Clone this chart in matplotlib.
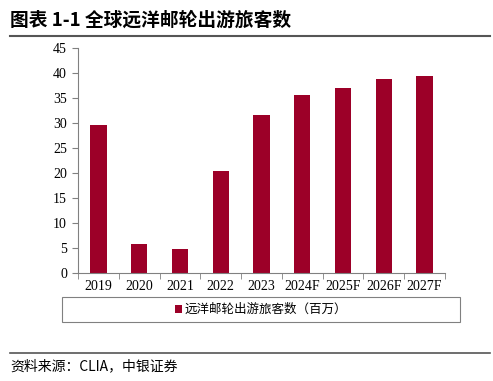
import matplotlib.pyplot as plt
from matplotlib.patches import Rectangle
from matplotlib.lines import Line2D

plt.rcParams['font.family'] = ['Liberation Serif', 'Noto Sans CJK SC']

years = ["2019", "2020", "2021", "2022", "2023", "2024F", "2025F", "2026F", "2027F"]
passengers = [29.7, 5.8, 4.8, 20.4, 31.7, 35.7, 37.1, 38.9, 39.4]

bar_color = "#9C0028"
W, H = 493, 381

fig = plt.figure(figsize=(W / 100, H / 100), dpi=100)
ax = fig.add_axes([78 / W, 1 - 273 / H, (445 - 78) / W, (273 - 48) / H])

x = list(range(len(years)))
bars = ax.bar(x, passengers, width=0.4, color=bar_color, label="远洋邮轮出游旅客数（百万）")

ax.set_xlim(-0.5, len(years) - 0.5)
ax.set_ylim(0, 45)
ax.set_yticks(range(0, 46, 5))
ax.set_xticks(x)
ax.set_xticklabels(years)
ax.set_xticks([i - 0.5 for i in range(len(years) + 1)], minor=True)
ax.tick_params(axis="x", which="major", length=0, labelsize=10, pad=5)
ax.tick_params(axis="x", which="minor", length=4, color="#808080")
ax.tick_params(axis="y", length=4, color="#808080", labelsize=10, pad=4)
for s in ["top", "right"]:
    ax.spines[s].set_visible(False)
for s in ["left", "bottom"]:
    ax.spines[s].set_color("#808080")
    ax.spines[s].set_linewidth(0.8)

# legend box
fig.patches.append(Rectangle((62 / W, 1 - 322 / H), (460 - 62) / W, 25 / H,
                             transform=fig.transFigure, fill=False,
                             edgecolor="#808080", linewidth=0.8))
fig.legend(handles=[bars], labels=["远洋邮轮出游旅客数（百万）"], loc="center",
           bbox_to_anchor=(261 / W, 1 - 309.5 / H), frameon=False,
           prop={"family": ["Noto Sans CJK SC"], "size": 9},
           handlelength=0.6, handleheight=0.6, handletextpad=0.2)

# title and rules
fig.text(10 / W, 1 - 20 / H, "图表 1-1 全球远洋邮轮出游旅客数", fontsize=13.5,
         fontweight="bold", family=["Noto Sans CJK SC"], va="center", ha="left")
fig.add_artist(Line2D([10 / W, 490 / W], [1 - 36 / H, 1 - 36 / H],
                      transform=fig.transFigure, color="#555555", linewidth=1.5))
fig.add_artist(Line2D([10 / W, 490 / W], [1 - 353 / H, 1 - 353 / H],
                      transform=fig.transFigure, color="#555555", linewidth=1.2))
fig.text(10 / W, 1 - 366 / H, "资料来源：CLIA，中银证券", fontsize=10,
         family=["Noto Sans CJK SC"], style="italic", va="center", ha="left")

fig.savefig("out.png", dpi=100)
